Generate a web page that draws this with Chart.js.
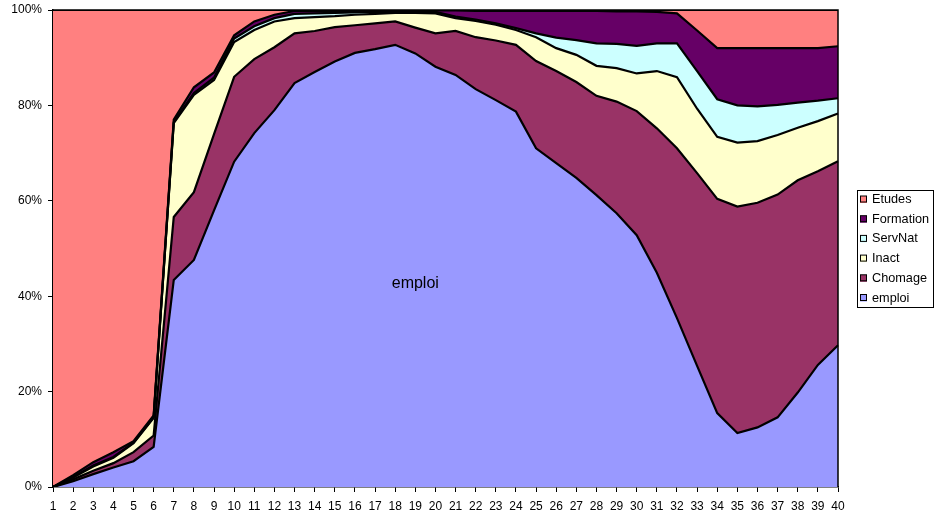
<!DOCTYPE html>
<html><head><meta charset="utf-8">
<script src="https://cdn.jsdelivr.net/npm/chart.js@4/dist/chart.umd.min.js"></script>
<style>html,body{margin:0;padding:0;background:#fff;}#wrap{width:937px;height:519px;position:relative}</style>
</head><body><div id="wrap"><canvas id="c" width="937" height="519"></canvas></div>
<script>
const categories = ["1","2","3","4","5","6","7","8","9","10","11","12","13","14","15","16","17","18","19","20","21","22","23","24","25","26","27","28","29","30","31","32","33","34","35","36","37","38","39","40"];
const emploi    = [0,1.2,2.7,4.1,5.4,8.4,43.4,47.6,58.0,68.2,74.2,79.0,84.7,87.0,89.2,91.0,91.8,92.7,90.9,88.1,86.4,83.4,81.1,78.7,71.0,67.9,64.8,61.2,57.4,52.8,44.9,35.4,25.4,15.5,11.3,12.5,14.6,19.8,25.6,29.7];
const chomage   = [0,0.4,0.7,0.9,1.9,2.4,13.2,14.2,16.0,17.8,15.5,13.2,10.4,8.6,7.2,5.8,5.4,4.9,5.4,7.0,9.2,10.9,12.5,14.0,18.3,19.3,20.1,20.8,23.4,26.0,30.3,35.6,40.4,44.9,47.5,47.1,46.7,44.5,40.6,38.6];
const inact     = [0,0.4,0.9,1.1,1.9,3.7,19.7,20.4,11.3,7.3,6.1,5.4,3.2,2.9,2.3,2.2,2.0,1.8,3.1,4.2,2.7,3.4,3.3,3.1,5.0,4.8,5.7,6.3,7.0,7.9,12.0,14.9,13.5,13.0,13.4,12.9,12.5,11.0,10.5,10.0];
const servNat   = [0,0.1,0.2,0.2,0.1,0.1,0.2,0.4,0.5,0.7,0.8,0.7,0.9,0.8,0.7,0.5,0.4,0.2,0.2,0.3,0.3,0.3,0.3,0.4,0.8,2.2,3.1,4.7,5.1,5.8,5.8,7.1,7.9,7.9,7.8,7.3,6.3,5.3,4.3,3.2];
const formation = [0,0.4,0.7,1.0,0.3,0.4,0.5,1.2,1.1,0.7,1.0,0.7,0.6,0.5,0.4,0.3,0.3,0.3,0.3,0.3,1.3,1.8,2.6,3.6,4.7,5.6,6.1,6.8,6.8,7.2,6.6,6.3,8.5,10.7,12.0,12.2,11.9,11.4,11.0,10.9];
const etudes    = [100,97.5,94.8,92.7,90.4,85.0,23.0,16.2,13.1,5.3,2.4,1.0,0.2,0.2,0.2,0.2,0.1,0.1,0.1,0.1,0.1,0.2,0.2,0.2,0.2,0.2,0.2,0.2,0.3,0.3,0.4,0.7,4.3,8.0,8.0,8.0,8.0,8.0,8.0,7.6];
const yTicks = [0,20,40,60,80,100];

const FONT = "'Liberation Sans', Arial, sans-serif";
Chart.defaults.font.family = FONT;
Chart.defaults.color = '#000';

const mk = (label, data, color, fill) => ({
  label, data, backgroundColor: color, borderColor: '#000', borderWidth: 2.2,
  fill, pointRadius: 0, pointHoverRadius: 0, tension: 0
});

const legendPlugin = {
  id: 'boxLegend',
  afterDraw(chart) {
    const ctx = chart.ctx;
    const ds = chart.data.datasets.slice().reverse();
    const x0 = 857, y0 = 190, w = 76, h = 117;
    ctx.save();
    ctx.fillStyle = '#fff';
    ctx.fillRect(x0, y0, w, h);
    ctx.strokeStyle = '#000'; ctx.lineWidth = 1;
    ctx.strokeRect(x0 + 0.5, y0 + 0.5, w, h);
    ctx.font = '12.7px ' + FONT;
    ctx.textBaseline = 'middle';
    ds.forEach((d, i) => {
      const cy = 199.5 + i * 19.7;
      ctx.fillStyle = d.backgroundColor;
      ctx.fillRect(860, cy - 3.5, 7, 7);
      ctx.strokeStyle = '#000';
      ctx.strokeRect(860.5, cy - 3.5, 6, 6);
      ctx.fillStyle = '#000';
      ctx.fillText(d.label, 872, cy);
    });
    ctx.restore();
  }
};

const framePlugin = {
  id: 'frame',
  afterDatasetsDraw(chart) {
    const {ctx, chartArea: a, scales} = chart;
    ctx.save();
    ctx.strokeStyle = '#000'; ctx.lineWidth = 1.5;
    ctx.beginPath();
    ctx.moveTo(a.left, a.top); ctx.lineTo(a.right, a.top); ctx.lineTo(a.right, a.bottom);
    ctx.stroke();
    ctx.font = '16px ' + FONT;
    ctx.fillStyle = '#000';
    ctx.textAlign = 'center'; ctx.textBaseline = 'middle';
    ctx.fillText('emploi', scales.x.getPixelForValue(18), scales.y.getPixelForValue(42.6));
    ctx.restore();
  }
};

new Chart(document.getElementById('c'), {
  type: 'line',
  data: {
    labels: categories,
    datasets: [
      mk('emploi', emploi, '#9999FF', 'origin'),
      mk('Chomage', chomage, '#993366', '-1'),
      mk('Inact', inact, '#FFFFCC', '-1'),
      mk('ServNat', servNat, '#CCFFFF', '-1'),
      mk('Formation', formation, '#660066', '-1'),
      mk('Etudes', etudes, '#FF8080', '-1')
    ]
  },
  options: {
    responsive: false, animation: false, devicePixelRatio: 1,
    layout: { padding: { top: 10, right: 99, bottom: 0, left: 0 } },
    plugins: {
      legend: { display: false }, tooltip: { enabled: false },
      filler: { propagate: false, drawTime: 'beforeDatasetsDraw' }
    },
    scales: {
      x: {
        type: 'category', offset: false,
        grid: { display: true, drawOnChartArea: false, drawTicks: true, tickLength: 5, color: '#000', lineWidth: 1 },
        border: { display: true, color: '#000', width: 1.5 },
        ticks: { autoSkip: false, maxRotation: 0, minRotation: 0, font: { size: 12 }, padding: 7, color: '#000' },
        afterFit(s) { s.height = 32; s.paddingLeft = 0; s.paddingRight = 0; }
      },
      y: {
        stacked: true, min: 0, max: 100,
        afterBuildTicks(s) { s.ticks = yTicks.map(v => ({ value: v })); },
        grid: { display: true, drawOnChartArea: false, drawTicks: true, tickLength: 5, color: '#000', lineWidth: 1 },
        border: { display: true, color: '#000', width: 1.5 },
        ticks: { callback: v => v + '%', font: { size: 12 }, padding: 6, color: '#000' },
        afterFit(s) { s.width = 53; s.paddingTop = 0; s.paddingBottom = 0; }
      }
    }
  },
  plugins: [legendPlugin, framePlugin]
});
</script></body></html>
